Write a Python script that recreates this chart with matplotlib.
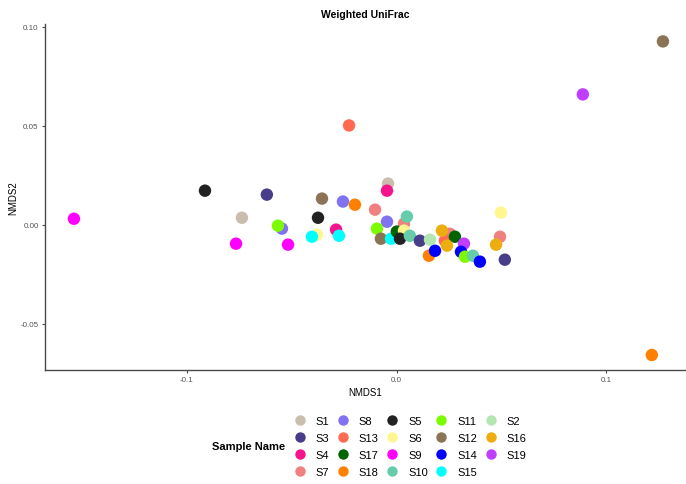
import matplotlib
matplotlib.use("Agg")
import matplotlib.pyplot as plt
from matplotlib.lines import Line2D

plt.rcParams['font.family'] = ['Liberation Sans', 'DejaVu Sans']

# ---- data (draw order) ----
samples = ["S9", "S5", "S1", "S9", "S3", "S8", "S11", "S9", "S6", "S15",
           "S5", "S12", "S4", "S15", "S8", "S18", "S13", "S1", "S4", "S7",
           "S8", "S11", "S7", "S10", "S12", "S15", "S17", "S6", "S5", "S10",
           "S3", "S2", "S7", "S13", "S16", "S17", "S16", "S18", "S14", "S19",
           "S14", "S11", "S10", "S14", "S6", "S7", "S16", "S3", "S12", "S19",
           "S18"]
nmds1 = [-0.1539, -0.0914, -0.0738, -0.0766, -0.0619, -0.0547, -0.0566, -0.0518, -0.0380, -0.0404,
         -0.0375, -0.0356, -0.0289, -0.0275, -0.0256, -0.0199, -0.0227, -0.0041, -0.0046, -0.0103,
         -0.0046, -0.0094, 0.0035, 0.0049, -0.0075, -0.0027, 0.0001, 0.0035, 0.0016, 0.0063,
         0.0111, 0.0159, 0.0254, 0.0230, 0.0216, 0.0278, 0.0240, 0.0154, 0.0183, 0.0321,
         0.0307, 0.0326, 0.0364, 0.0397, 0.0497, 0.0493, 0.0474, 0.0516, 0.1270, 0.0888,
         0.1217]
nmds2 = [0.0030, 0.0172, 0.0035, -0.0096, 0.0152, -0.0020, -0.0005, -0.0101, -0.0051, -0.0061,
         0.0035, 0.0132, -0.0025, -0.0056, 0.0117, 0.0101, 0.0502, 0.0208, 0.0172, 0.0076,
         0.0015, -0.0020, 0.0005, 0.0041, -0.0071, -0.0071, -0.0035, -0.0030, -0.0071, -0.0056,
         -0.0081, -0.0076, -0.0046, -0.0081, -0.0030, -0.0061, -0.0106, -0.0157, -0.0132, -0.0096,
         -0.0137, -0.0162, -0.0157, -0.0187, 0.0061, -0.0061, -0.0101, -0.0177, 0.0927, 0.0659,
         -0.0659]

legend_order = ["S1", "S3", "S4", "S7", "S8", "S13", "S17", "S18", "S5", "S6",
                "S9", "S10", "S11", "S12", "S14", "S15", "S2", "S16", "S19"]
sample_colors = {
    "S1": "#C9BEAE", "S2": "#B4E6B4", "S3": "#483D8B", "S4": "#F5148C",
    "S5": "#222222", "S6": "#FFF68F", "S7": "#F08080", "S8": "#8072F0",
    "S9": "#FF00FF", "S10": "#66CDAA", "S11": "#7CFC00", "S12": "#8B7355",
    "S13": "#FF6A50", "S14": "#0000FF", "S15": "#00FFFF", "S16": "#EEAD0E",
    "S17": "#006400", "S18": "#FF7F00", "S19": "#BF3EFF",
}

W, H = 686, 485
fig = plt.figure(figsize=(W / 100, H / 100), dpi=100)
ax = fig.add_axes([45 / W, 1 - 371 / H, 1 - 45 / W, (371 - 25) / H])

ax.scatter(nmds1, nmds2, c=[sample_colors[s] for s in samples], s=80,
           linewidths=0, zorder=3)

ax.set_xlim(-0.1677, 0.138)
ax.set_ylim(-0.0735, 0.1015)
ax.set_xticks([-0.1, 0.0, 0.1])
ax.set_xticklabels(["-0.1", "0.0", "0.1"])
ax.set_yticks([-0.05, 0.0, 0.05, 0.10])
ax.set_yticklabels(["-0.05", "0.00", "0.05", "0.10"])

for sp in ["top", "right"]:
    ax.spines[sp].set_visible(False)
for sp in ["left", "bottom"]:
    ax.spines[sp].set_color("#4a4a4a")
    ax.spines[sp].set_linewidth(1.0)
ax.tick_params(axis="both", labelsize=5.8, labelcolor="#555555", color="#4a4a4a",
               length=2.5, width=0.8, pad=2)

ax.set_xlabel("NMDS1", fontsize=7, labelpad=3)
ax.set_ylabel("NMDS2", fontsize=7, labelpad=2)
ax.set_title("Weighted UniFrac", fontsize=7.5, fontweight="bold", pad=5)

handles = [Line2D([], [], marker="o", ls="", ms=7.5, mec="none",
                  mfc=sample_colors[s]) for s in legend_order]
fig.legend(handles, legend_order, ncol=5, loc="upper left",
           bbox_to_anchor=(293 / W, 1 - 417 / H), frameon=False,
           fontsize=8, handlelength=1.2, handletextpad=0.85,
           columnspacing=0.6, labelspacing=0.62, borderpad=0, borderaxespad=0)
fig.text(212 / W, 1 - 447 / H, "Sample Name", fontsize=8, fontweight="bold",
         ha="left", va="center")

fig.savefig("out.png", dpi=100)
